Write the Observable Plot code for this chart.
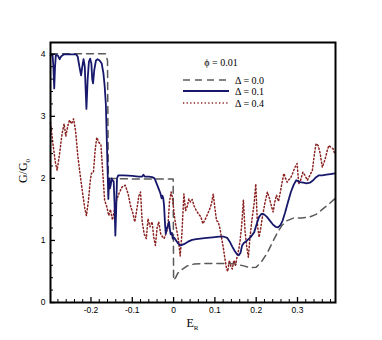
<!DOCTYPE html>
<html><head><meta charset="utf-8">
<script src="https://cdn.jsdelivr.net/npm/d3@7"></script>
<script src="https://cdn.jsdelivr.net/npm/@observablehq/plot@0.6"></script>
<style>body{margin:0;background:#fff}</style>
</head><body><div id="chart"></div>
<script>
// Δ = 0.0 (dashed)
const e0 = [-0.298,-0.165,-0.160,-0.158,-0.150,-0.100,-0.050,-0.001,0.000,0.005,0.010,0.020,0.033,0.050,0.080,0.100,0.130,0.150,0.170,0.185,0.200,0.212,0.227,0.240,0.251,0.262,0.275,0.290,0.310,0.330,0.345,0.360,0.375,0.390];
const g0 = [4.01,4.01,3.90,2.00,2.00,1.99,1.99,1.99,0.36,0.40,0.47,0.53,0.59,0.62,0.63,0.63,0.63,0.62,0.59,0.56,0.57,0.65,0.80,0.98,1.12,1.24,1.32,1.36,1.36,1.38,1.42,1.50,1.58,1.67];
// Δ = 0.1 (solid)
const e1 = [-0.298,-0.293,-0.291,-0.289,-0.287,-0.285,-0.280,-0.276,-0.272,-0.265,-0.250,-0.236,-0.232,-0.228,-0.224,-0.221,-0.218,-0.215,-0.213,-0.211,-0.208,-0.205,-0.202,-0.199,-0.197,-0.195,-0.192,-0.188,-0.184,-0.179,-0.174,-0.170,-0.167,-0.164,-0.162,-0.160,-0.158,-0.156,-0.154,-0.152,-0.150,-0.148,-0.145,-0.143,-0.141,-0.139,-0.137,-0.134,-0.120,-0.100,-0.085,-0.076,-0.073,-0.070,-0.060,-0.052,-0.046,-0.040,-0.036,-0.032,-0.029,-0.027,-0.025,-0.023,-0.021,-0.019,-0.016,-0.013,-0.011,-0.009,-0.007,-0.004,-0.002,0.002,0.006,0.011,0.017,0.025,0.035,0.045,0.055,0.065,0.080,0.095,0.110,0.122,0.130,0.136,0.142,0.148,0.153,0.158,0.162,0.166,0.170,0.178,0.186,0.195,0.202,0.207,0.213,0.219,0.226,0.233,0.240,0.247,0.253,0.259,0.264,0.270,0.277,0.284,0.291,0.297,0.300,0.306,0.314,0.322,0.330,0.338,0.345,0.352,0.360,0.370,0.380,0.390];
const g1 = [3.98,3.99,3.80,3.45,3.80,3.99,3.98,3.92,3.97,4.00,4.00,4.00,3.96,3.80,3.66,3.80,3.92,3.80,3.45,3.12,3.60,3.88,3.93,3.85,3.60,3.53,3.75,3.90,3.92,3.90,3.85,3.70,3.50,3.20,2.70,2.20,1.67,2.00,1.84,1.90,2.00,1.97,1.95,1.60,1.08,1.50,2.00,2.05,2.05,2.04,2.03,2.03,2.06,2.03,2.03,2.02,2.00,1.90,1.83,1.76,1.68,1.72,1.68,1.56,1.30,1.11,1.20,1.25,1.30,1.18,1.10,1.12,1.03,1.04,1.00,0.95,0.92,0.94,0.98,1.01,1.02,1.03,1.04,1.05,1.06,1.06,1.04,0.98,0.90,0.83,0.78,0.76,0.80,0.92,0.96,1.00,1.05,1.13,1.28,1.38,1.43,1.42,1.38,1.32,1.26,1.22,1.21,1.25,1.32,1.45,1.62,1.78,1.90,1.97,1.96,1.94,1.93,1.92,1.93,1.97,2.02,2.05,2.05,2.06,2.07,2.08];
// Δ = 0.4 (dotted)
const e4 = [-0.298,-0.292,-0.286,-0.282,-0.276,-0.270,-0.265,-0.261,-0.256,-0.252,-0.247,-0.242,-0.237,-0.232,-0.226,-0.220,-0.215,-0.211,-0.206,-0.202,-0.199,-0.194,-0.190,-0.186,-0.181,-0.176,-0.172,-0.167,-0.162,-0.157,-0.153,-0.148,-0.143,-0.138,-0.132,-0.125,-0.117,-0.110,-0.104,-0.099,-0.094,-0.089,-0.084,-0.080,-0.076,-0.071,-0.066,-0.062,-0.057,-0.052,-0.048,-0.044,-0.040,-0.036,-0.031,-0.027,-0.023,-0.019,-0.014,-0.010,-0.006,-0.003,0.001,0.004,0.008,0.012,0.016,0.020,0.025,0.029,0.033,0.037,0.041,0.045,0.050,0.055,0.061,0.066,0.071,0.076,0.082,0.087,0.092,0.096,0.100,0.104,0.108,0.112,0.116,0.120,0.124,0.128,0.131,0.135,0.139,0.142,0.146,0.150,0.154,0.158,0.161,0.165,0.169,0.173,0.177,0.181,0.185,0.190,0.195,0.199,0.203,0.207,0.211,0.215,0.221,0.227,0.232,0.237,0.241,0.245,0.249,0.254,0.259,0.263,0.267,0.271,0.275,0.279,0.283,0.288,0.294,0.299,0.303,0.308,0.313,0.318,0.324,0.330,0.336,0.341,0.345,0.350,0.355,0.360,0.364,0.368,0.372,0.376,0.381,0.386,0.390];
const g4 = [2.90,2.55,2.25,2.13,2.40,2.72,2.88,2.68,2.85,2.94,2.88,2.96,2.75,2.37,2.05,1.75,1.52,1.40,1.65,1.95,2.08,2.10,2.45,2.66,2.58,2.55,2.15,1.65,1.55,1.40,1.50,1.33,1.50,1.65,1.76,1.86,1.89,1.75,1.55,1.45,1.30,1.50,1.72,1.78,1.30,1.10,1.03,1.35,1.22,1.30,1.05,0.92,1.20,1.30,1.10,1.06,1.03,1.10,1.20,1.62,1.78,1.70,1.45,1.30,1.15,1.00,0.75,1.10,1.75,1.48,1.55,1.67,1.62,1.66,1.55,1.48,1.42,1.38,1.27,1.33,1.42,1.50,1.60,1.75,1.52,1.32,1.30,1.20,1.05,0.90,0.72,0.55,0.50,0.68,0.58,0.54,0.68,0.60,0.75,0.86,1.00,1.25,1.65,1.15,0.90,0.73,1.05,1.35,1.60,1.91,1.25,1.05,1.20,1.38,1.60,1.78,1.68,1.55,1.46,1.62,1.73,1.63,1.80,1.95,2.08,2.00,1.94,1.98,2.00,2.08,2.18,2.24,1.91,1.98,2.10,2.05,1.97,2.05,2.13,2.40,2.56,2.53,2.40,2.18,2.25,2.34,2.45,2.53,2.50,2.48,2.40];

const xMajor = [-0.2,-0.1,0,0.1,0.2,0.3];
const xMinor = [-0.28,-0.26,-0.24,-0.22,-0.18,-0.16,-0.14,-0.12,-0.08,-0.06,-0.04,-0.02,0.02,0.04,0.06,0.08,0.12,0.14,0.16,0.18,0.22,0.24,0.26,0.28,0.32,0.34,0.36,0.38];
const yMajor = [0,1,2,3,4];
const yMinor = [0.2,0.4,0.6,0.8,1.2,1.4,1.6,1.8,2.2,2.4,2.6,2.8,3.2,3.4,3.6,3.8];
const seriesLabels = ["Δ = 0.0","Δ = 0.1","Δ = 0.4"];
const phiLabel = "ϕ = 0.01";

const rows = (E, G) => E.map((e, i) => ({e, g: G[i]}));
const colors = ["#5a5a5a", "#17186b", "#8b2222"];
const dashes = ["7,5", null, "1.3,2.3"];
const widths = [1.5, 1.8, 1.5];

const chart = Plot.plot({
  width: 382, height: 340,
  marginLeft: 50, marginRight: 47, marginTop: 42, marginBottom: 38,
  style: {fontFamily: "'Liberation Sans', Arial, sans-serif", fontSize: "8.5px", background: "white", color: "black"},
  x: {domain: [-0.298, 0.392]},
  y: {domain: [0, 4.19]},
  marks: [
    Plot.line(rows(e0, g0), {x: "e", y: "g", stroke: colors[0], strokeWidth: widths[0], strokeDasharray: dashes[0]}),
    Plot.line(rows(e4, g4), {x: "e", y: "g", stroke: colors[2], strokeWidth: widths[2], strokeDasharray: dashes[2]}),
    Plot.line(rows(e1, g1), {x: "e", y: "g", stroke: colors[1], strokeWidth: widths[1]}),
    Plot.axisX({ticks: xMajor, tickSize: -5, tickPadding: 9, tickFormat: d => String(d), label: null, strokeWidth: 1.3}),
    Plot.axisX({ticks: xMinor, tickSize: -3, tickFormat: () => "", label: null, strokeWidth: 1}),
    Plot.axisY({ticks: yMajor, tickSize: -5, tickPadding: 10, tickFormat: d => String(d), label: null, strokeWidth: 1.3}),
    Plot.axisY({ticks: yMinor, tickSize: -3, tickFormat: () => "", label: null, strokeWidth: 1}),
    Plot.frame({stroke: "black", strokeWidth: 2})
  ]
});
document.getElementById("chart").appendChild(chart);

const svg = d3.select(chart);
const serif = "'Liberation Serif', 'Times New Roman', serif";
// axis labels
const xl = svg.append("text").attr("x", 192.5).attr("y", 327).attr("text-anchor", "middle")
  .attr("font-family", serif).attr("font-size", 12).attr("fill", "black");
xl.append("tspan").text("E");
xl.append("tspan").attr("font-size", 7).attr("dy", 3).text("R");
const yl = svg.append("text").attr("transform", "translate(27,171) rotate(-90)").attr("text-anchor", "middle")
  .attr("font-family", serif).attr("font-size", 12).attr("fill", "black");
yl.append("tspan").text("G/G");
yl.append("tspan").attr("font-size", 7).attr("dy", 3).text("0");
// legend
const lg = svg.append("g").attr("font-family", serif).attr("font-size", 10).attr("fill", "black");
lg.append("text").attr("x", 221).attr("y", 65.5).attr("text-anchor", "middle").text(phiLabel);
[80, 91, 103].forEach((yy, i) => {
  const ln = lg.append("line").attr("x1", 183).attr("x2", 229).attr("y1", yy).attr("y2", yy)
    .attr("stroke", colors[i]).attr("stroke-width", widths[i]);
  if (dashes[i]) ln.attr("stroke-dasharray", dashes[i]);
  lg.append("text").attr("x", 235).attr("y", yy + 3.5).attr("text-anchor", "start").text(seriesLabels[i]);
});
</script>
</body></html>
